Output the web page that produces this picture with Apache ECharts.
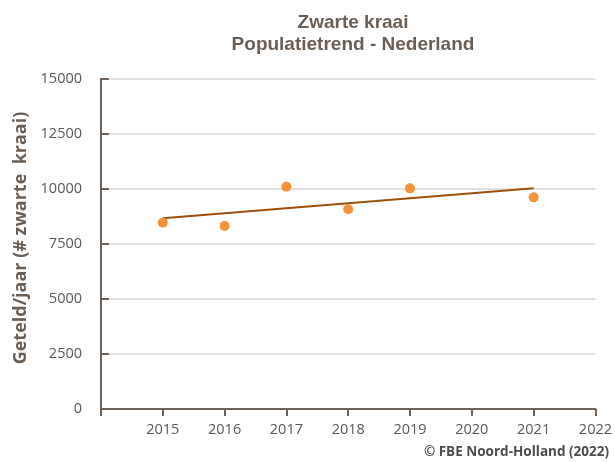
<!DOCTYPE html>
<html>
<head>
<meta charset="utf-8">
<script src="https://cdn.jsdelivr.net/npm/echarts@6/dist/echarts.min.js"></script>
<style>
html,body{margin:0;padding:0;background:#fff;}
#c{width:615px;height:462px;}
</style>
</head>
<body>
<div id="c"></div>
<script>
const years = [2015, 2016, 2017, 2018, 2019, 2021];
const counts = [8470, 8320, 10100, 9080, 10030, 9620];
const trendYears = [2015, 2021];
const trendValues = [8665, 10030];
const yTicks = [0, 2500, 5000, 7500, 10000, 12500, 15000];

const chart = echarts.init(document.getElementById('c'), null, {renderer: 'canvas'});
const axisColor = '#6e6259';
const labelColor = '#595959';
chart.setOption({
  animation: false,
  backgroundColor: '#fff',
  title: {
    text: 'Zwarte kraai\nPopulatietrend - Nederland',
    left: 348,
    top: 7,
    textAlign: 'center',
    textStyle: {
      fontFamily: 'Liberation Sans, Arial, sans-serif',
      fontWeight: 'bold',
      fontSize: 19,
      lineHeight: 22,
      color: '#6b5f55'
    }
  },
  graphic: [{
    type: 'text',
    right: 6,
    top: 445,
    style: {
      text: '© FBE Noord-Holland (2022)',
      fontFamily: 'Open Sans, sans-serif',
      fontWeight: 'bold',
      fontSize: 13.5,
      fill: '#4d4d4d'
    }
  }],
  grid: {left: 101, right: 18, top: 79, bottom: 53},
  xAxis: {
    type: 'value',
    min: 2014,
    max: 2022,
    interval: 1,
    axisLine: {show: true, lineStyle: {color: axisColor, width: 2}},
    axisTick: {show: true, inside: false, length: 7, lineStyle: {color: axisColor, width: 2}},
    splitLine: {show: false},
    axisLabel: {
      color: labelColor,
      fontFamily: 'Open Sans, sans-serif',
      fontSize: 14.5,
      margin: 13,
      formatter: v => v === 2014 ? '' : String(v)
    }
  },
  yAxis: {
    type: 'value',
    min: yTicks[0],
    max: yTicks[yTicks.length - 1],
    interval: 2500,
    name: 'Geteld/jaar (# zwarte  kraai)',
    nameLocation: 'middle',
    nameGap: 67,
    nameTextStyle: {
      fontFamily: 'Open Sans, sans-serif',
      fontWeight: 'bold',
      fontSize: 18,
      color: '#6b5f55',
      padding: [0, 0, 0, 12]
    },
    axisLine: {show: true, lineStyle: {color: axisColor, width: 2}},
    axisTick: {show: true, inside: true, length: 8, lineStyle: {color: axisColor, width: 2}},
    splitLine: {show: true, lineStyle: {color: '#d9d9d9', width: 1.5}},
    axisLabel: {
      color: labelColor,
      fontFamily: 'Open Sans, sans-serif',
      fontSize: 14.5,
      margin: 19,
      formatter: v => String(v)
    }
  },
  series: [
    {
      type: 'line',
      data: trendYears.map((y, i) => [y, trendValues[i]]),
      showSymbol: false,
      symbol: 'none',
      lineStyle: {color: '#9c500c', width: 2},
      z: 2
    },
    {
      type: 'scatter',
      data: years.map((y, i) => [y, counts[i]]),
      symbolSize: 10,
      itemStyle: {color: '#f5923a', opacity: 1},
      z: 3
    }
  ]
});
</script>
</body>
</html>
